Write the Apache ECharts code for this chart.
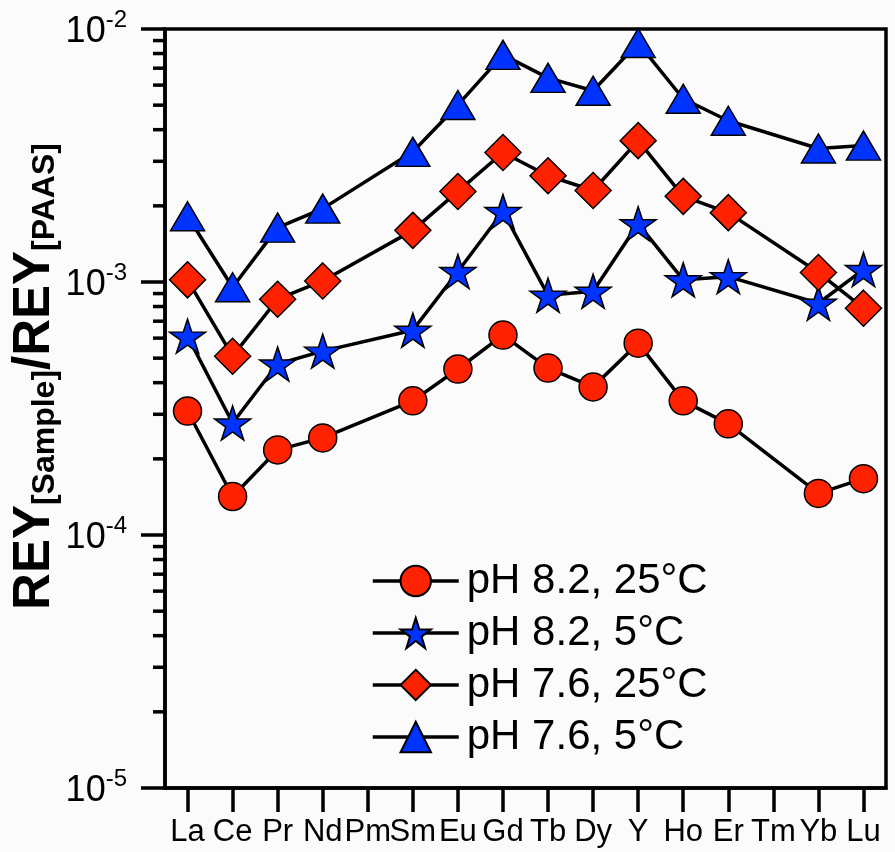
<!DOCTYPE html>
<html>
<head>
<meta charset="utf-8">
<script src="https://cdn.jsdelivr.net/npm/echarts@6/dist/echarts.min.js"></script>
<style>
  html, body { margin: 0; padding: 0; background: #fbfbfb; }
  #chart { width: 895px; height: 852px; }
</style>
</head>
<body>
<div id="chart"></div>
<script>
// rare earth elements + Y, PAAS normalised
const elements = ["La", "Ce", "Pr", "Nd", "Pm", "Sm", "Eu", "Gd", "Tb", "Dy", "Y", "Ho", "Er", "Tm", "Yb", "Lu"];

const ph82_25 = [3.09e-4, 1.42e-4, 2.17e-4, 2.42e-4, null, 3.39e-4, 4.53e-4, 6.17e-4, 4.57e-4, 3.85e-4, 5.73e-4, 3.39e-4, 2.75e-4, null, 1.46e-4, 1.67e-4];
const ph82_5 = [6.11e-4, 2.77e-4, 4.74e-4, 5.33e-4, null, 6.45e-4, 1.10e-3, 1.90e-3, 8.86e-4, 9.19e-4, 1.70e-3, 1.02e-3, 1.05e-3, null, 8.24e-4, 1.12e-3];
const ph76_25 = [1.02e-3, 5.09e-4, 8.55e-4, 1.01e-3, null, 1.60e-3, 2.28e-3, 3.25e-3, 2.63e-3, 2.30e-3, 3.62e-3, 2.18e-3, 1.88e-3, null, 1.09e-3, 7.88e-4];
const ph76_5 = [1.82e-3, 9.53e-4, 1.64e-3, 1.95e-3, null, 3.27e-3, 5.01e-3, 7.90e-3, 6.41e-3, 5.70e-3, 8.80e-3, 5.30e-3, 4.34e-3, null, 3.37e-3, 3.46e-3];

const seriesNames = ["pH 8.2, 25°C", "pH 8.2, 5°C", "pH 7.6, 25°C", "pH 7.6, 5°C"];
const yMin = 1e-5, yMax = 1e-2;
const minorSteps = [2, 3, 4, 5, 6, 7, 8, 9];

const RED = "#ff2200";
const BLUE = "#0033ff";
const FONT = "Liberation Sans, Arial, sans-serif";
const STAR = "path://M0,-100 L22.45,-30.9 L95.1,-30.9 L36.3,11.8 L58.8,80.9 L0,38.2 L-58.8,80.9 L-36.3,11.8 L-95.1,-30.9 L-22.45,-30.9 Z";

const gridLeft = 165, gridTop = 29;

function mkSeries(name, data, symbol, size, color) {
  return {
    type: "line",
    name: name,
    data: data,
    symbol: symbol,
    symbolSize: size,
    connectNulls: true,
    lineStyle: { color: "#000", width: 3.5 },
    itemStyle: { color: color, borderColor: "#000", borderWidth: 1.5, opacity: 1 },
    emphasis: { disabled: true },
    animation: false
  };
}

const chart = echarts.init(document.getElementById("chart"));
chart.setOption({
  backgroundColor: "#fbfbfb",
  grid: {
    left: gridLeft, right: 9, top: gridTop, bottom: 64,
    outerBoundsMode: "none",
    containLabel: false,
    show: true, borderColor: "#000", borderWidth: 3.5, backgroundColor: "transparent"
  },
  legend: {
    orient: "vertical",
    left: 366,
    top: 555,
    itemWidth: 86,
    itemHeight: 38,
    itemGap: 10,
    data: seriesNames,
    lineStyle: { color: "#000", width: 3.5 },
    textStyle: { fontSize: 42, color: "#000", fontFamily: FONT, padding: [0, 0, 0, 3] }
  },
  xAxis: {
    type: "category",
    data: elements,
    boundaryGap: true,
    axisLine: { show: true, lineStyle: { color: "#000", width: 3.5 } },
    axisTick: { show: true, inside: false, alignWithLabel: true, length: 24, lineStyle: { color: "#000", width: 3.5 } },
    axisLabel: { interval: 0, margin: 29, fontSize: 31, color: "#000", fontFamily: FONT },
    splitLine: { show: false }
  },
  yAxis: {
    type: "log",
    logBase: 10,
    min: yMin,
    max: yMax,
    axisLine: { show: true, lineStyle: { color: "#000", width: 3.5 } },
    axisTick: { show: true, inside: false, length: 24, lineStyle: { color: "#000", width: 3.5 } },
    splitLine: { show: false },
    axisLabel: {
      margin: 38,
      formatter: function (v) {
        return "{b|10}{s|" + Math.round(Math.log10(v)) + "}";
      },
      rich: {
        b: { fontSize: 36, lineHeight: 42, color: "#000", fontFamily: FONT, verticalAlign: "bottom" },
        s: { fontSize: 24, lineHeight: 24, color: "#000", fontFamily: FONT, verticalAlign: "top" }
      }
    },
    name: "{b|REY}{s|[Sample]}{b|/REY}{s|[PAAS]}",
    nameLocation: "middle",
    nameRotate: 90,
    nameGap: 104,
    nameMoveOverlap: false,
    nameTextStyle: {
      padding: [0, 0, 0, 64],
      rich: {
        b: { fontSize: 51, fontWeight: "bold", lineHeight: 52, padding: [0, 0, 22, 0], color: "#000", fontFamily: FONT, verticalAlign: "top" },
        s: { fontSize: 32, fontWeight: "bold", lineHeight: 32, color: "#000", fontFamily: FONT, verticalAlign: "bottom" }
      }
    }
  },
  series: [
    mkSeries(seriesNames[0], ph82_25, "circle", 28, RED),
    mkSeries(seriesNames[1], ph82_5, STAR, [36, 34], BLUE),
    mkSeries(seriesNames[2], ph76_25, "diamond", 36, RED),
    mkSeries(seriesNames[3], ph76_5, "triangle", [34, 29], BLUE)
  ]
});

// log-style minor ticks (2..9 in each decade), placed through the axis scale
const minor = [];
for (let d = -5; d < -2; d++) {
  minorSteps.forEach(function (k) {
    const y = chart.convertToPixel({ yAxisIndex: 0 }, k * Math.pow(10, d));
    minor.push({
      type: "line",
      shape: { x1: gridLeft - 12, y1: y, x2: gridLeft, y2: y },
      style: { stroke: "#000", lineWidth: 3.5 },
      silent: true
    });
  });
}
chart.setOption({ graphic: minor });
</script>
</body>
</html>
